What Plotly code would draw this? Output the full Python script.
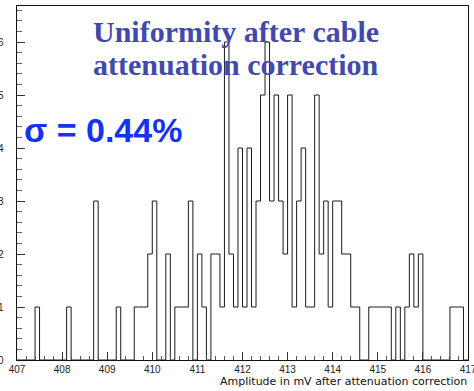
import plotly.graph_objects as go

# Histogram definition: 100 bins of 0.1 mV from 407 to 417 mV
x_low = 407.0
bin_width = 0.1
counts = [
    0, 0, 0, 0, 1, 0, 0, 0, 0, 0,   # 407.0 - 408.0
    0, 1, 0, 0, 0, 0, 0, 3, 0, 0,   # 408.0 - 409.0
    0, 0, 1, 0, 0, 0, 1, 1, 1, 2,   # 409.0 - 410.0
    3, 0, 0, 2, 0, 1, 1, 1, 3, 0,   # 410.0 - 411.0
    2, 1, 0, 2, 2, 1, 6, 2, 1, 4,   # 411.0 - 412.0
    1, 4, 1, 3, 5, 6, 3, 5, 3, 2,   # 412.0 - 413.0
    5, 1, 3, 4, 1, 1, 5, 2, 3, 1,   # 413.0 - 414.0
    3, 3, 2, 2, 1, 1, 0, 0, 1, 1,   # 414.0 - 415.0
    1, 1, 1, 0, 1, 0, 1, 2, 1, 2,   # 415.0 - 416.0
    0, 0, 0, 0, 0, 0, 1, 1, 1, 0,   # 416.0 - 417.0
]
y_tick_values = [0, 1, 2, 3, 4, 5, 6]

title_lines = ["Uniformity after cable", "attenuation correction"]
sigma_text = "σ = 0.44%"
x_title = "Amplitude in mV after attenuation correction"

# Step outline of the histogram (ROOT-style contour)
edges = [x_low + i * bin_width for i in range(len(counts) + 1)]
xs = [edges[0]] + edges + [edges[-1]]
ys = [0] + counts + [counts[-1]] + [0]

fig = go.Figure()
fig.add_trace(go.Scatter(
    x=xs, y=ys, mode="lines", line_shape="hv",
    line=dict(color="#1a1a1a", width=1),
    hoverinfo="skip", showlegend=False,
))

label_font = dict(family="Liberation Sans, Arial, sans-serif", size=10, color="#222")
axis_common = dict(
    showline=True, linecolor="#111", linewidth=1, mirror=True,
    showgrid=False, zeroline=False, ticks="inside", tickcolor="#333",
    automargin=False, tickfont=label_font,
)

fig.update_xaxes(
    range=[407, 417.0005], dtick=1, tick0=407, ticklen=8,
    ticklabeloverflow="allow",
    minor=dict(dtick=0.2, ticklen=4, ticks="inside", tickcolor="#555"),
    **axis_common,
)
fig.update_yaxes(
    range=[0, 6.68], dtick=1, tick0=0, ticklen=8, showticklabels=False,
    minor=dict(dtick=0.2, ticklen=5, ticks="inside", tickcolor="#666"),
    **axis_common,
)

W, H = 474, 391
L, R, T, B = 17, 6, 6, 31
pw, ph = W - L - R, H - T - B


def px(x):
    return (x - L) / pw


def py(y):
    return (H - B - y) / ph


# y tick labels sit well left of the frame, partly past the page edge
for v in y_tick_values:
    fig.add_annotation(
        text=str(v), xref="paper", yref="y", x=px(6), y=v,
        xanchor="right", yanchor="middle", showarrow=False,
        font=label_font,
    )

title_font = dict(family="Liberation Serif, Times New Roman, serif", size=30, color="#4349ab")
for text, yc in zip(title_lines, [32, 65]):
    fig.add_annotation(
        text=f"<b>{text}</b>", xref="paper", yref="paper",
        x=px(236), y=py(yc), xanchor="center", yanchor="middle",
        showarrow=False, font=title_font,
    )

fig.add_annotation(
    text=f"<b>{sigma_text}</b>", xref="paper", yref="paper",
    x=px(22), y=py(130), xanchor="left", yanchor="middle",
    showarrow=False,
    font=dict(family="Liberation Sans, Arial, sans-serif", size=34, color="#1432f0"),
)

fig.add_annotation(
    text=x_title, xref="paper", yref="paper",
    x=px(469), y=py(381), xanchor="right", yanchor="middle",
    showarrow=False,
    font=dict(family="DejaVu Sans, Verdana, sans-serif", size=11, color="#111"),
)

fig.update_layout(
    width=W, height=H,
    margin=dict(l=L, r=R, t=T, b=B, autoexpand=False),
    paper_bgcolor="white", plot_bgcolor="white",
)

fig.write_html("out.html")
